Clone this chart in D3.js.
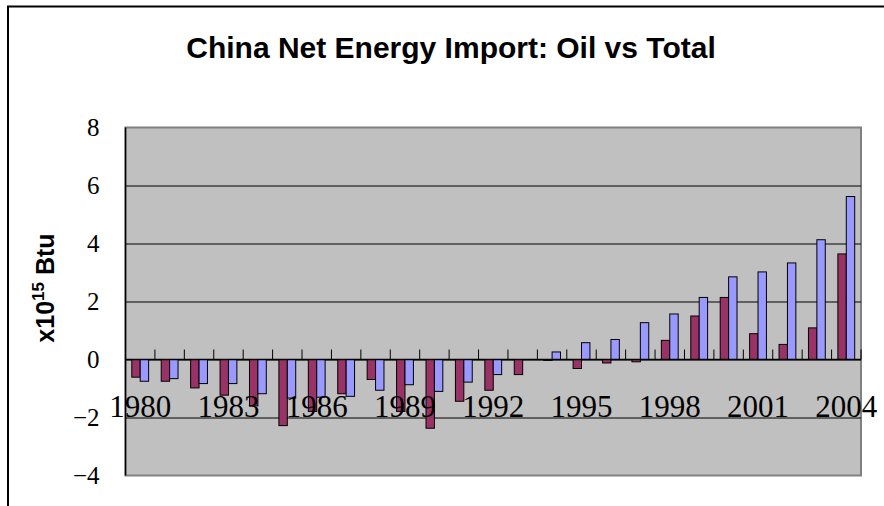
<!DOCTYPE html>
<html>
<head>
<meta charset="utf-8">
<script src="https://cdn.jsdelivr.net/npm/d3@7"></script>
<style>
  html, body { margin: 0; padding: 0; background: #fff; }
  svg { display: block; }
</style>
</head>
<body>
<svg id="chart" width="884" height="506"></svg>
<script>
// Net imports by year, in quadrillion (10^15) Btu; negative values are net exports.
const years = [1980, 1981, 1982, 1983, 1984, 1985, 1986, 1987, 1988, 1989,
               1990, 1991, 1992, 1993, 1994, 1995, 1996, 1997, 1998, 1999,
               2000, 2001, 2002, 2003, 2004];
const oilImport = [-0.61, -0.75, -0.98, -1.23, -1.60, -2.28, -1.79, -1.18, -0.69, -1.79,
                   -2.37, -1.44, -1.06, -0.52, -0.03, -0.31, -0.12, -0.08, 0.66, 1.50,
                   2.14, 0.89, 0.52, 1.09, 3.64];
const totalImport = [-0.75, -0.66, -0.83, -0.83, -1.18, -1.33, -1.30, -1.27, -1.06, -0.87,
                     -1.10, -0.78, -0.52, 0.00, 0.26, 0.58, 0.69, 1.27, 1.57, 2.14,
                     2.85, 3.02, 3.33, 4.13, 5.62];
const seriesNames = ["Oil", "Total"];
const yTicks = [-4, -2, 0, 2, 4, 6, 8];
const yearLabels = [1980, 1983, 1986, 1989, 1992, 1995, 1998, 2001, 2004];

const rows = years.map((yr, i) => ({ year: yr, Oil: oilImport[i], Total: totalImport[i] }));

const serif = "'Liberation Serif', 'Times New Roman', serif";
const sans = "'Liberation Sans', Arial, sans-serif";

const svg = d3.select("#chart");
const plot = { left: 125.5, right: 861, top: 127.5, bottom: 475.5 };

const x = d3.scaleBand().domain(years).range([plot.left, plot.right]).padding(0);
const xSeries = d3.scaleBand().domain(seriesNames).range([0, x.bandwidth()])
  .paddingInner(0).paddingOuter(0.75);
const y = d3.scaleLinear().domain([-4, 8]).range([plot.bottom, plot.top]);
const color = d3.scaleOrdinal().domain(seriesNames).range(["#993366", "#9999ff"]);

// outer chart frame
svg.append("path")
  .attr("d", "M8,506V6.5H884")
  .attr("fill", "none").attr("stroke", "#000").attr("stroke-width", 2);

// title
svg.append("text")
  .attr("x", 451).attr("y", 58)
  .attr("text-anchor", "middle")
  .style("font-family", sans)
  .style("font-size", "30px").style("font-weight", "bold")
  .text("China Net Energy Import: Oil vs Total");

// plot background
svg.append("rect")
  .attr("x", plot.left).attr("y", plot.top)
  .attr("width", plot.right - plot.left).attr("height", plot.bottom - plot.top)
  .attr("fill", "#c0c0c0").attr("stroke", "#808080").attr("stroke-width", 2);

// horizontal gridlines and value labels
const yAxis = svg.append("g")
  .attr("transform", `translate(${plot.left},0)`)
  .call(d3.axisLeft(y).tickValues(yTicks).tickSize(-(plot.right - plot.left)).tickPadding(26));
yAxis.select(".domain").remove();
yAxis.selectAll(".tick line")
  .attr("stroke", d => (d === -4 || d === 8) ? "none" : "#000")
  .attr("stroke-width", 1);
yAxis.selectAll(".tick text")
  .style("font-family", serif)
  .style("font-size", "25px").attr("fill", "#000")
  .attr("dy", "0.30em");

// left axis line
svg.append("line")
  .attr("x1", plot.left).attr("x2", plot.left)
  .attr("y1", plot.top).attr("y2", plot.bottom)
  .attr("stroke", "#000").attr("stroke-width", 1.5);

// bars
const groups = svg.append("g").selectAll("g")
  .data(rows).join("g")
  .attr("transform", d => `translate(${x(d.year)},0)`);
groups.selectAll("rect")
  .data(d => seriesNames.map(k => ({ key: k, value: d[k] })))
  .join("rect")
  .attr("x", d => xSeries(d.key))
  .attr("width", xSeries.bandwidth())
  .attr("y", d => y(Math.max(0, d.value)))
  .attr("height", d => Math.abs(y(d.value) - y(0)))
  .attr("fill", d => color(d.key))
  .attr("stroke", "#000").attr("stroke-width", 1);

// category axis on the zero line, ticks between categories pointing up
const zeroY = y(0);
svg.append("line")
  .attr("x1", plot.left).attr("x2", plot.right)
  .attr("y1", zeroY).attr("y2", zeroY)
  .attr("stroke", "#000").attr("stroke-width", 1.5);
const boundaries = years.map(yr => x(yr)).concat([x(years[years.length - 1]) + x.bandwidth()]);
svg.append("g").selectAll("line")
  .data(boundaries.slice(1))
  .join("line")
  .attr("x1", d => d).attr("x2", d => d)
  .attr("y1", zeroY - 10).attr("y2", zeroY)
  .attr("stroke", "#000").attr("stroke-width", 1);

svg.append("g").selectAll("text")
  .data(yearLabels)
  .join("text")
  .attr("x", d => x(d) + x.bandwidth() / 2)
  .attr("y", zeroY + 57)
  .attr("text-anchor", "middle")
  .style("font-family", serif)
  .style("font-size", "31px").attr("fill", "#000")
  .text(d => d);

// value axis title
const yTitle = svg.append("text")
  .attr("transform", "translate(54,288) rotate(-90)")
  .attr("text-anchor", "middle")
  .style("font-family", sans)
  .style("font-size", "25px").style("font-weight", "bold");
yTitle.append("tspan").text("x10");
yTitle.append("tspan").style("font-size", "17px").attr("dy", -10).text("15");
yTitle.append("tspan").attr("dy", 10).text(" Btu");
</script>
</body>
</html>
